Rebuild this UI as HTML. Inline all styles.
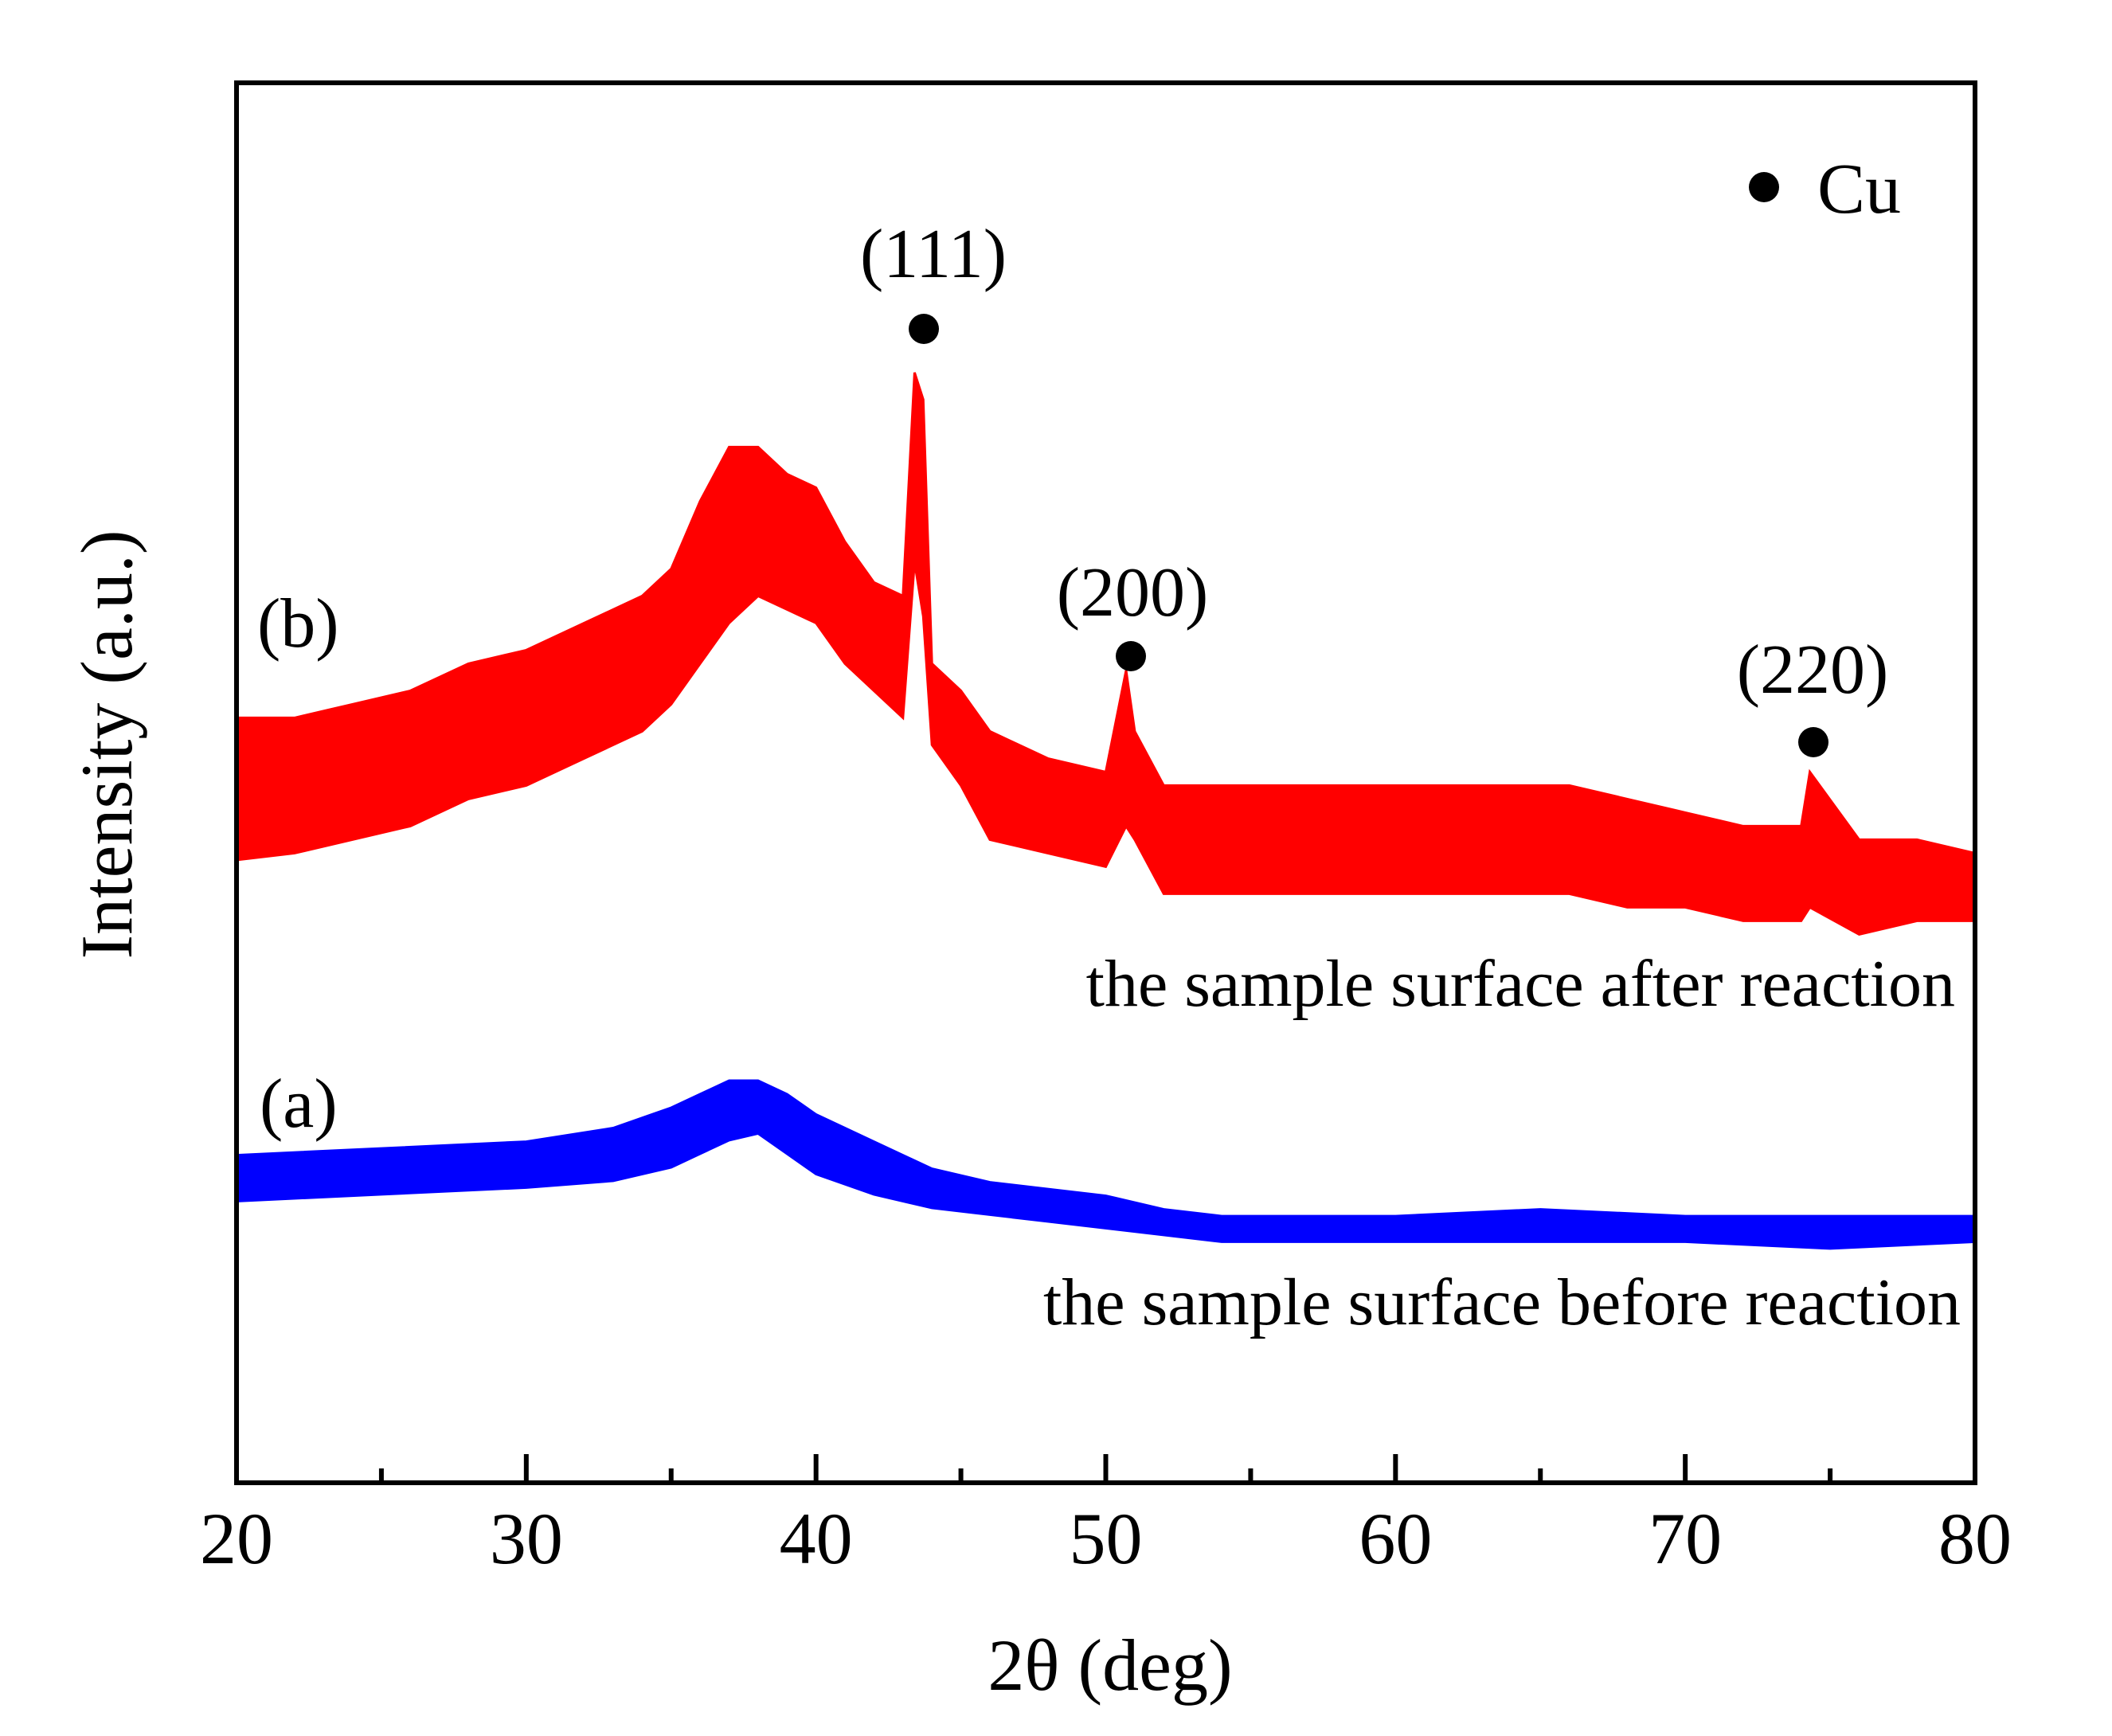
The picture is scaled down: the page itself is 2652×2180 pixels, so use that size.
<!DOCTYPE html>
<html><head><meta charset="utf-8">
<style>
html,body{margin:0;padding:0;background:#fff;}
svg{display:block;font-family:"Liberation Serif",serif;}
</style></head>
<body>
<svg id="chart" width="2652" height="2180" viewBox="0 0 2652 2180" xmlns="http://www.w3.org/2000/svg">
<rect x="0" y="0" width="2652" height="2180" fill="#fff"/>
<g id="series"></g>
<g id="axes"></g>
<g font-size="88">
  <text x="1172" y="348" text-anchor="middle">(111)</text>
  <circle cx="1160" cy="413" r="19" fill="#000"/>
  <text x="1422" y="773" text-anchor="middle">(200)</text>
  <circle cx="1420" cy="824" r="19" fill="#000"/>
  <text x="2276" y="870" text-anchor="middle">(220)</text>
  <circle cx="2277" cy="932" r="19" fill="#000"/>
</g>
<g>
  <circle cx="2215" cy="235" r="19" fill="#000"/>
  <text x="2282" y="267" font-size="90">Cu</text>
</g>
<text x="323" y="812" font-size="88">(b)</text>
<text x="326" y="1415" font-size="88">(a)</text>
<text x="2455" y="1263" font-size="84" text-anchor="end">the sample surface after reaction</text>
<text x="2462" y="1663" font-size="84" text-anchor="end">the sample surface before reaction</text>
<text x="1394" y="2122" font-size="92" text-anchor="middle">2θ (deg)</text>
<text x="0" y="0" font-size="92" text-anchor="middle" transform="translate(165,935) rotate(-90)">Intensity (a.u.)</text>
</svg>
<script>
const redX = [20,22,24,26,28,30,32,34,35,36,37,38,39,40,41,42,43,43.4,43.7,44,45,46,48,50,50.7,51,52,54,56,58,60,62,64,66,68,70,72,74,74.3,76,78,80];
const redUpper = [565,565,575,585,605,615,635,655,675,725,765,765,745,735,695,665,655,820,800,605,585,555,535,525,600,555,515,515,515,515,515,515,515,515,505,495,485,485,525,475,475,465];
const redLower = [460,465,475,485,505,515,535,555,575,605,635,655,645,635,605,585,565,680,640,545,515,475,465,455,485,475,435,435,435,435,435,435,435,435,425,425,415,415,425,405,415,415];
const blueX = [20,25,30,33,35,36,37,38,39,40,42,44,46,48,50,52,54,56,60,65,70,75,80];
const blueUpper = [242,247,252,262,277,287,297,297,287,272,252,232,222,217,212,202,197,197,197,202,197,197,197];
const blueLower = [208,213,218,223,233,243,253,258,243,228,213,203,198,193,188,183,178,178,178,178,178,173,178];
const xTicks = [20,30,40,50,60,70,80];
const xMinorTicks = [25,35,45,55,65,75];

const NS = "http://www.w3.org/2000/svg";
const L = 297, R = 2480, T = 104, B = 1862;
const X0 = 20, X1 = 80, Y0 = 0, Y1 = 1034;
function sx(v){ return L + (v - X0) / (X1 - X0) * (R - L); }
function sy(v){ return B - (v - Y0) / (Y1 - Y0) * (B - T); }

function band(xs, up, lo, color, name){
  let pts = [];
  for (let i = 0; i < xs.length; i++) pts.push(sx(xs[i]).toFixed(1) + "," + sy(up[i]).toFixed(1));
  for (let i = xs.length - 1; i >= 0; i--) pts.push(sx(xs[i]).toFixed(1) + "," + sy(lo[i]).toFixed(1));
  const p = document.createElementNS(NS, "polygon");
  p.setAttribute("points", pts.join(" "));
  p.setAttribute("fill", color);
  p.setAttribute("stroke", color);
  p.setAttribute("stroke-width", "3");
  
  
  document.getElementById("series").appendChild(p);
}
band(redX, redUpper, redLower, "#ff0000", "series-b-after-reaction");
band(blueX, blueUpper, blueLower, "#0000ff", "series-a-before-reaction");

const axes = document.getElementById("axes");
const frame = document.createElementNS(NS, "rect");
frame.setAttribute("x", L); frame.setAttribute("y", T);
frame.setAttribute("width", R - L); frame.setAttribute("height", B - T);
frame.setAttribute("fill", "none"); frame.setAttribute("stroke", "#000"); frame.setAttribute("stroke-width", "6");


axes.appendChild(frame);

xTicks.forEach(function(t){
  const ln = document.createElementNS(NS, "line");
  ln.setAttribute("x1", sx(t)); ln.setAttribute("x2", sx(t));
  ln.setAttribute("y1", B); ln.setAttribute("y2", B - 36);
  ln.setAttribute("stroke", "#000"); ln.setAttribute("stroke-width", "6");
  
  
  axes.appendChild(ln);
  const tx = document.createElementNS(NS, "text");
  tx.setAttribute("x", sx(t)); tx.setAttribute("y", 1963);
  tx.setAttribute("text-anchor", "middle"); tx.setAttribute("font-size", "92");
  tx.textContent = t;
  
  
  axes.appendChild(tx);
});
xMinorTicks.forEach(function(t){
  const ln = document.createElementNS(NS, "line");
  ln.setAttribute("x1", sx(t)); ln.setAttribute("x2", sx(t));
  ln.setAttribute("y1", B); ln.setAttribute("y2", B - 18);
  ln.setAttribute("stroke", "#000"); ln.setAttribute("stroke-width", "6");
  
  
  axes.appendChild(ln);
});
</script>
</body></html>
